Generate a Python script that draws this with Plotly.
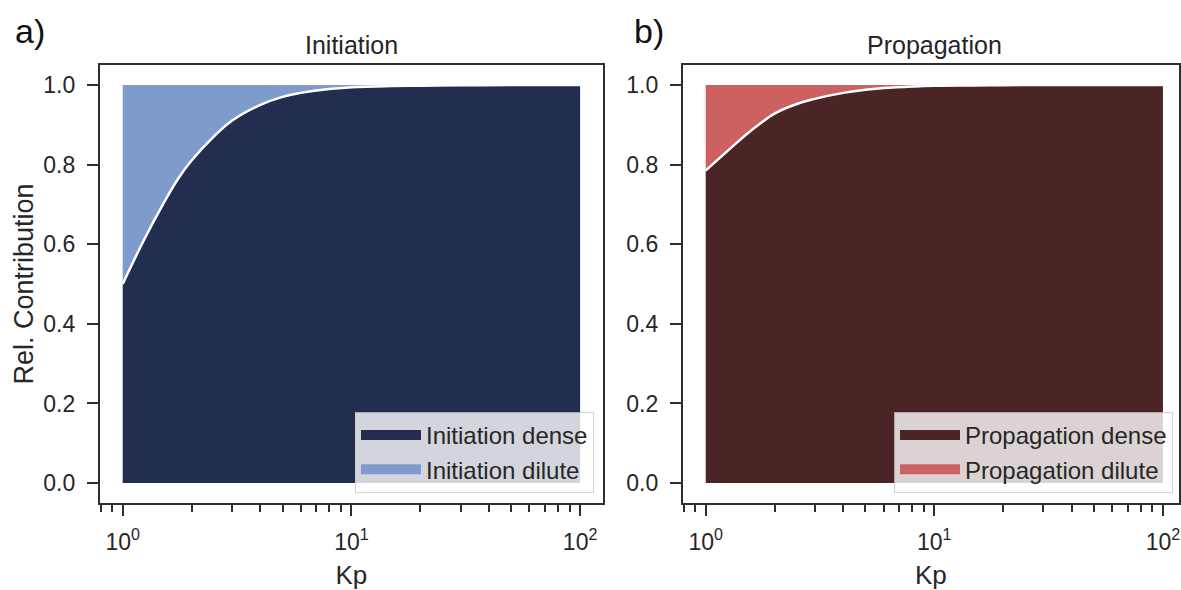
import plotly.graph_objects as go

# ---- data ----
kp = [1, 1.25, 1.5, 1.75, 2, 2.5, 3, 4, 5, 6, 8, 10, 15, 20, 30, 50, 100]
init_dense = [0.50, 0.615, 0.70, 0.765, 0.81, 0.87, 0.91, 0.95, 0.97, 0.98,
              0.99, 0.994, 0.997, 0.998, 0.999, 0.9995, 1.0]
prop_dense = [0.785, 0.835, 0.875, 0.905, 0.928, 0.952, 0.965, 0.98, 0.988,
              0.992, 0.996, 0.998, 0.9988, 0.9993, 0.9997, 0.9999, 1.0]
total = [1.0] * len(kp)

panel_titles = ["Initiation", "Propagation"]
panel_letters = ["a)", "b)"]
series_names = [["Initiation dense", "Initiation dilute"],
                ["Propagation dense", "Propagation dilute"]]
colors = [["#222d50", "#7f9bcc"], ["#4b2425", "#cd6161"]]
x_tickvals = [1, 10, 100]
x_ticktext = ["10<sup>0</sup>", "10<sup>1</sup>", "10<sup>2</sup>"]
y_tickvals = [0.0, 0.2, 0.4, 0.6, 0.8, 1.0]

W, H = 1181, 590
FONT = "Liberation Sans, Arial, sans-serif"
TXT = "#262626"
EDGE = "#2e2e2e"

fig = go.Figure()

panels = [init_dense, prop_dense]
for i, dense in enumerate(panels):
    xa = "x" if i == 0 else "x2"
    ya = "y" if i == 0 else "y2"
    lg = "legend" if i == 0 else "legend2"
    fig.add_trace(go.Scatter(x=kp, y=dense, mode="lines", name=series_names[i][0],
                             line=dict(width=0, shape="spline", smoothing=1.2, color=colors[i][0]),
                             fill="tozeroy", fillcolor=colors[i][0], showlegend=False,
                             xaxis=xa, yaxis=ya, hoverinfo="skip"))
    fig.add_trace(go.Scatter(x=kp, y=total, mode="lines", name=series_names[i][1],
                             line=dict(width=0, color=colors[i][1]),
                             fill="tonexty", fillcolor=colors[i][1], showlegend=False,
                             xaxis=xa, yaxis=ya, hoverinfo="skip"))
    fig.add_trace(go.Scatter(x=kp, y=dense, mode="lines", showlegend=False,
                             line=dict(width=2.5, shape="spline", smoothing=1.2, color="white"),
                             xaxis=xa, yaxis=ya, hoverinfo="skip"))
    # legend swatches (patch-like keys for the two filled areas)
    for j in range(2):
        fig.add_trace(go.Scatter(x=[None], y=[None], mode="lines", name=series_names[i][j],
                                 line=dict(width=18, color=colors[i][j]),
                                 xaxis=xa, yaxis=ya, legend=lg, hoverinfo="skip"))

# layout geometry (pixels -> paper)
def px(x):
    return x / W

def py(y):
    return (H - y) / H

y_dom = [py(503), py(65)]
left_dom = [px(100), px(604)]
right_dom = [px(684), 1.0]
dec = 229.0  # pixels per decade

common_x = dict(type="log", tickvals=x_tickvals, ticktext=x_ticktext,
                ticks="outside", ticklen=11, tickwidth=2, tickcolor=EDGE,
                showline=True, linecolor=EDGE, linewidth=2, mirror=True,
                showgrid=False, zeroline=False, ticklabelstandoff=6,
                tickfont=dict(size=23, color=TXT, family=FONT),
                title=dict(text="Kp", font=dict(size=26, color=TXT, family=FONT), standoff=14),
                minor=dict(ticks="outside", ticklen=7, tickwidth=1.6, tickcolor=EDGE,
                           dtick="D1", showgrid=False))
common_y = dict(range=[-0.05, 1.05], tickvals=y_tickvals, tickformat=".1f",
                ticks="outside", ticklen=11, tickwidth=2, tickcolor=EDGE,
                showline=True, linecolor=EDGE, linewidth=2, mirror=True,
                showgrid=False, zeroline=False, ticklabelstandoff=7,
                tickfont=dict(size=23, color=TXT, family=FONT))

right_span = (W - 684) / dec

legend_common = dict(xanchor="right", yanchor="bottom", traceorder="normal",
                     bgcolor="rgba(255,255,255,0.8)", bordercolor="rgba(200,200,200,0.8)",
                     borderwidth=1, font=dict(size=24, color=TXT, family=FONT),
                     itemwidth=60, tracegroupgap=0)

fig.update_layout(
    width=W, height=H, autosize=False,
    margin=dict(l=0, r=0, t=0, b=0),
    paper_bgcolor="white", plot_bgcolor="white",
    font=dict(family=FONT, color=TXT),
    xaxis=dict(domain=left_dom, range=[-0.1, 2.1], anchor="y", **common_x),
    xaxis2=dict(domain=right_dom, range=[-0.1, -0.1 + right_span], anchor="y2", **common_x),
    yaxis=dict(domain=y_dom, anchor="x",
               title=dict(text="Rel. Contribution", font=dict(size=27, color=TXT, family=FONT),
                          standoff=2),
               **common_y),
    yaxis2=dict(domain=y_dom, anchor="x2", **common_y),
    legend=dict(x=px(595), y=py(493), **legend_common),
    legend2=dict(x=px(1175), y=py(493), **legend_common),
    showlegend=True,
)

title_x = [px(352), px(936)]
letter_x = [px(30), px(650)]
for i in range(2):
    fig.add_annotation(text=panel_titles[i], x=title_x[i], y=py(45), xref="paper", yref="paper",
                       xanchor="center", yanchor="middle", showarrow=False,
                       font=dict(size=25, color=TXT, family=FONT))
    fig.add_annotation(text=panel_letters[i], x=letter_x[i], y=py(31), xref="paper", yref="paper",
                       xanchor="center", yanchor="middle", showarrow=False,
                       font=dict(size=34, color="#111111", family=FONT))

fig.write_html("out.html")
